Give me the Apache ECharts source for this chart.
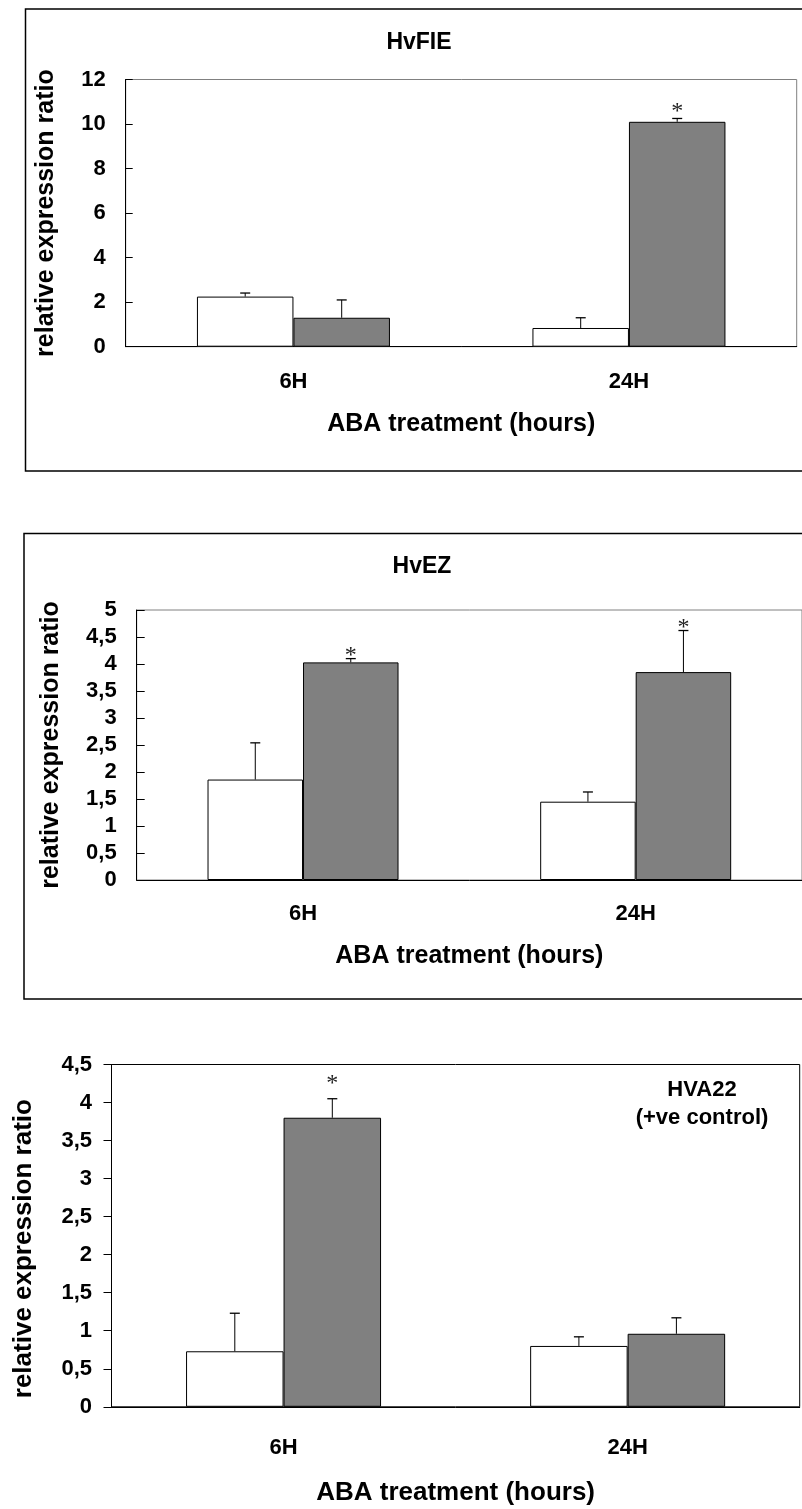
<!DOCTYPE html>
<html><head><meta charset="utf-8">
<script src="https://cdn.jsdelivr.net/npm/echarts@6/dist/echarts.min.js"></script>
<style>html,body{margin:0;padding:0;background:#fff}#c{width:802px;height:1509px}</style>
</head><body><div id="c"></div>
<script>
// ---------------- data ----------------
const categories = ['6H', '24H'];

// Panel 1: HvFIE
const hvfieControl = [2.25, 0.84];
const hvfieControlErr = [0.16, 0.46];
const hvfieAba = [1.30, 10.10];
const hvfieAbaErr = [0.80, 0.15];
const hvfieAbaSig = [0, 1];
const hvfieYTicks = ['0', '2', '4', '6', '8', '10', '12'];

// Panel 2: HvEZ
const hvezControl = [1.86, 1.45];
const hvezControlErr = [0.68, 0.18];
const hvezAba = [4.03, 3.85];
const hvezAbaErr = [0.07, 0.77];
const hvezAbaSig = [1, 1];
const hvezYTicks = ['0', '0,5', '1', '1,5', '2', '2,5', '3', '3,5', '4', '4,5', '5'];

// Panel 3: HVA22 (+ve control)
const hva22Control = [0.73, 0.80];
const hva22ControlErr = [0.50, 0.12];
const hva22Aba = [3.80, 0.96];
const hva22AbaErr = [0.25, 0.21];
const hva22AbaSig = [1, 0];
const hva22YTicks = ['0', '0,5', '1', '1,5', '2', '2,5', '3', '3,5', '4', '4,5'];

const yTitle = 'relative expression ratio';
const xTitle = 'ABA treatment (hours)';

// ---------------- styling ----------------
const FONT = "'Liberation Sans', Arial, Helvetica, sans-serif";
const panels = [
  { control: hvfieControl, controlErr: hvfieControlErr, aba: hvfieAba, abaErr: hvfieAbaErr, sig: hvfieAbaSig,
    ticks: hvfieYTicks, max: 12, interval: 2,
    grid: { left: 125.7, top: 79.5, width: 671, height: 267.2 }, border: '#808080',
    barWidth: 96.5, tickInside: true, tickLen: 7, xTickLen: 7, labelMargin: 20, catMargin: 24,
    xNameGap: 65, yNameGap: 67, nameSize: 25, yNamePad: 0, starGap: 7 },
  { control: hvezControl, controlErr: hvezControlErr, aba: hvezAba, abaErr: hvezAbaErr, sig: hvezAbaSig,
    ticks: hvezYTicks, max: 5, interval: 0.5,
    grid: { left: 136.7, top: 610, width: 670.6, height: 270 }, border: '#808080',
    barWidth: 95.5, tickInside: true, tickLen: 8, xTickLen: 7, labelMargin: 20, catMargin: 23,
    xNameGap: 63.5, yNameGap: 73, nameSize: 25, yNamePad: 0, starGap: 3 },
  { control: hva22Control, controlErr: hva22ControlErr, aba: hva22Aba, abaErr: hva22AbaErr, sig: hva22AbaSig,
    ticks: hva22YTicks, max: 4.5, interval: 0.5,
    grid: { left: 111.5, top: 1064.5, width: 688.2, height: 342.3 }, border: '#000',
    barWidth: 97.5, tickInside: false, tickLen: 8, xTickLen: 9, labelMargin: 19.5, catMargin: 30,
    xNameGap: 73, yNameGap: 74.5, nameSize: 26, yNamePad: 26, starGap: 15 }
];

const grids = [], xAxes = [], yAxes = [], series = [];
panels.forEach((p, i) => {
  grids.push(Object.assign({ show: true, borderColor: p.border, borderWidth: 1, backgroundColor: 'transparent' }, p.grid));
  xAxes.push({
    type: 'category', gridIndex: i, data: categories,
    axisLine: { lineStyle: { color: '#000', width: 1 } },
    axisTick: { inside: true, length: p.xTickLen, lineStyle: { color: '#000' } },
    axisLabel: { margin: p.catMargin, color: '#000', fontFamily: FONT, fontWeight: 'bold', fontSize: 22 },
    name: xTitle, nameLocation: 'middle', nameGap: p.xNameGap,
    nameTextStyle: { color: '#000', fontFamily: FONT, fontWeight: 'bold', fontSize: p.nameSize }
  });
  yAxes.push({
    type: 'value', gridIndex: i, min: 0, max: p.max, interval: p.interval,
    splitLine: { show: false },
    axisLine: { show: true, lineStyle: { color: '#000', width: 1 } },
    axisTick: { show: true, inside: p.tickInside, length: p.tickLen, lineStyle: { color: '#000' } },
    axisLabel: { margin: p.labelMargin, color: '#000', fontFamily: FONT, fontWeight: 'bold', fontSize: 22,
      formatter: (v) => p.ticks[Math.round(v / p.interval)] },
    name: yTitle, nameLocation: 'middle', nameGap: p.yNameGap,
    nameTextStyle: { color: '#000', fontFamily: FONT, fontWeight: 'bold', fontSize: p.nameSize,
      padding: [0, p.yNamePad, 0, 0] }
  });
  const barBase = { type: 'bar', xAxisIndex: i, yAxisIndex: i, barWidth: p.barWidth, barGap: '0%', silent: true };
  series.push(Object.assign({}, barBase, { name: 'control', data: p.control,
    itemStyle: { color: '#ffffff', borderColor: '#000', borderWidth: 1 } }));
  series.push(Object.assign({}, barBase, { name: 'ABA', data: p.aba,
    itemStyle: { color: '#808080', borderColor: '#000', borderWidth: 1 } }));
  const mkErr = (vals, errs, sigs, side) => ({
    type: 'custom', xAxisIndex: i, yAxisIndex: i, silent: true, z: 5, clip: false,
    data: vals.map((v, k) => [k, v, errs[k], sigs ? sigs[k] : 0]),
    renderItem: (params, api) => {
      const idx = api.value(0), v = api.value(1), e = api.value(2), s = api.value(3);
      const base = api.coord([idx, v]);
      const top = api.coord([idx, v + e]);
      const x = base[0] + side * p.barWidth / 2;
      const children = [
        { type: 'line', shape: { x1: x, y1: base[1], x2: x, y2: top[1] }, style: { stroke: '#000', lineWidth: 1 } },
        { type: 'line', shape: { x1: x - 5, y1: top[1], x2: x + 5, y2: top[1] }, style: { stroke: '#000', lineWidth: 1.3 } }
      ];
      if (s) {
        children.push({ type: 'text', x: x, y: top[1] - p.starGap,
          style: { text: '*', align: 'center', verticalAlign: 'middle', fill: '#222',
            fontSize: 24, fontFamily: "'Liberation Serif', 'DejaVu Serif', serif" } });
      }
      return { type: 'group', children };
    }
  });
  series.push(mkErr(p.control, p.controlErr, null, -1));
  series.push(mkErr(p.aba, p.abaErr, p.sig, 1));
});

const chart = echarts.init(document.getElementById('c'), null, { renderer: 'canvas' });
chart.setOption({
  animation: false,
  backgroundColor: '#fff',
  title: [
    { text: 'HvFIE', left: 419, top: 31, textAlign: 'center', padding: 0,
      textStyle: { fontFamily: FONT, fontWeight: 'bold', fontSize: 23, color: '#000' } },
    { text: 'HvEZ', left: 422, top: 555, textAlign: 'center', padding: 0,
      textStyle: { fontFamily: FONT, fontWeight: 'bold', fontSize: 23, color: '#000' } },
    { text: 'HVA22\n(+ve control)', left: 702, top: 1076, textAlign: 'center', padding: 0,
      textStyle: { fontFamily: FONT, fontWeight: 'bold', fontSize: 22, lineHeight: 28, color: '#000', align: 'center' } }
  ],
  graphic: [
    { type: 'rect', shape: { x: 25.5, y: 9, width: 800, height: 462 }, style: { fill: null, stroke: '#000', lineWidth: 1.5 }, silent: true },
    { type: 'rect', shape: { x: 24, y: 533.5, width: 800, height: 465.5 }, style: { fill: null, stroke: '#000', lineWidth: 1.5 }, silent: true }
  ],
  grid: grids, xAxis: xAxes, yAxis: yAxes, series: series
});
</script></body></html>
